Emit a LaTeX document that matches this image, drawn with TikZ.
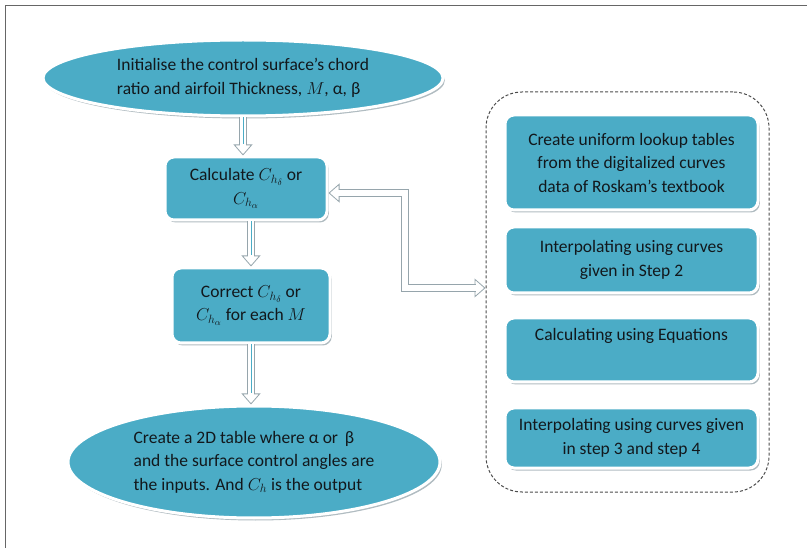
\documentclass[tikz,border=0pt]{standalone}
\usepackage{fontspec}
\setmainfont{Carlito}
\usetikzlibrary{arrows.meta,shadows,shapes.geometric,calc}
\definecolor{tealfill}{RGB}{75,172,198}
\definecolor{txtc}{RGB}{18,24,28}
\definecolor{rimgray}{RGB}{150,165,172}
\definecolor{innerblue}{RGB}{75,172,198}
\begin{document}
\begin{tikzpicture}[x=1pt,y=-1pt,
  font=\fontsize{17.5}{23.5}\selectfont,
  every node/.append style={text=txtc},
  shadowed/.style={drop shadow={shadow xshift=1.8pt, shadow yshift=-2.5pt, fill=rimgray, opacity=0.75}},
  flowbox/.style={rectangle, rounded corners=9pt, fill=tealfill, draw=white, line width=3pt,
     align=center, inner sep=0pt, shadowed},
  flowell/.style={ellipse, fill=tealfill, draw=white, line width=3pt,
     align=left, inner sep=0pt, shadowed},
  hollowarr/.style={draw=rimgray, line width=0.8pt, -{Triangle[length=11pt,width=19pt,fill=white]},
     postaction={draw=rimgray, line width=8pt, arrows=-, shorten >=10pt},
     postaction={draw=white, line width=6pt, arrows=-, shorten >=9.5pt},
     postaction={draw=innerblue, line width=0.8pt, arrows=-, shorten >=11pt}},
  hollowarrtwo/.style={draw=rimgray, line width=0.8pt,
     {Triangle[length=11pt,width=19pt,fill=white]}-{Triangle[length=11pt,width=19pt,fill=white]},
     postaction={draw=rimgray, line width=8pt, arrows=-, shorten >=10pt, shorten <=10pt},
     postaction={draw=white, line width=6pt, arrows=-, shorten >=9.5pt, shorten <=9.5pt, line join=miter}},
  groupbox/.style={draw=black!70, line width=1pt, dash pattern=on 3pt off 2pt, rounded corners=36pt}
]
\useasboundingbox (0,0) rectangle (807,548);
% frame
\draw[black!60, line width=1.6pt] (807,5.5) -- (5.5,5.5) -- (5.5,548);

% left column
\node[flowell, minimum width=400, minimum height=76] (top) at (243,78)
  {Initialise the control surface’s chord\\ratio and airfoil Thickness, $M$, α, β};
\node[flowbox, minimum width=162, minimum height=63] (calc) at (246,188.5)
  {Calculate $C_{h_\delta}$ or\\$C_{h_\alpha}$};
\node[flowbox, minimum width=158, minimum height=75] (corr) at (251,305.5)
  {Correct $C_{h_\delta}$ or\\$C_{h_\alpha}$ for each $M$};
\node[flowell, minimum width=372, minimum height=112] (bot) at (254,462)
  {Create a 2D table where α or \,β\\and the surface control angles are\\the inputs. And $C_h$ is the output};

% right group
\node[groupbox, minimum width=283, minimum height=400] (grp) at (627.5,292) {};
\node[flowbox, minimum width=253, minimum height=95] (r1) at (631.5,162.5)
  {Create uniform lookup tables\\from the digitalized curves\\data of Roskam’s textbook};
\node[flowbox, minimum width=253, minimum height=66] (r2) at (631.5,260)
  {Interpolating using curves\\given in Step 2};
\node[flowbox, minimum width=253, minimum height=64] (r3) at (631.5,350)
  {Calculating using Equations\\\strut};
\node[flowbox, minimum width=253, minimum height=60] (r4) at (631.5,438)
  {Interpolating using curves given\\in step 3 and step 4};

% connectors
\draw[hollowarr] (top.south) -- (top.south |- calc.north);
\draw[hollowarr] (calc.south -| corr.north) -- (corr.north);
\draw[hollowarr] (corr.south) -- (corr.south |- bot.north);

\coordinate (elbtop) at (405,193);
\coordinate (elbbot) at (405,288);
\draw[hollowarrtwo] (calc.east |- elbtop) -- (elbtop) -- (elbbot) -- (grp.west |- elbbot);
\end{tikzpicture}
\end{document}
